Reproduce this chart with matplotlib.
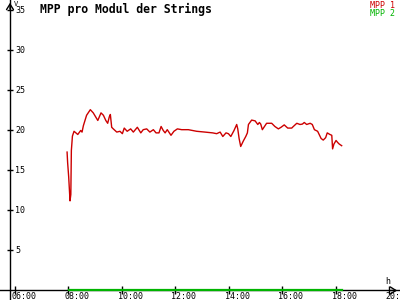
import matplotlib
matplotlib.use('Agg')
import matplotlib.pyplot as plt
from matplotlib.transforms import offset_copy

title = "MPP pro Modul der Strings"
series_names = ["MPP 1", "MPP 2"]
series_colors = ["#cc0000", "#00b400"]
x_ticks = [6, 8, 10, 12, 14, 16, 18, 20]
x_tick_labels = ["06:00", "08:00", "10:00", "12:00", "14:00", "16:00", "18:00", "20:00"]
y_ticks = [5, 10, 15, 20, 25, 30, 35]
y_unit = "V"
x_unit = "h"

# MPP 1 (hours of day, volts)
mpp1_hours = [7.95, 7.97, 8.01, 8.06, 8.09, 8.11, 8.15, 8.21, 8.35, 8.46,
              8.51, 8.56, 8.68, 8.82, 8.93, 9.10, 9.22, 9.31, 9.40, 9.47,
              9.53, 9.57, 9.62, 9.68, 9.81, 9.93, 10.02, 10.09, 10.20, 10.33,
              10.43, 10.58, 10.71, 10.80, 10.93, 11.05, 11.18, 11.28, 11.39, 11.47,
              11.55, 11.62, 11.70, 11.84, 11.95, 12.08, 12.24, 12.49, 12.80, 13.11,
              13.40, 13.55, 13.68, 13.78, 13.90, 13.99, 14.08, 14.20, 14.30, 14.34,
              14.39, 14.45, 14.55, 14.64, 14.70, 14.74, 14.86, 14.99, 15.09, 15.15,
              15.20, 15.26, 15.36, 15.42, 15.61, 15.73, 15.86, 15.96, 16.08, 16.21,
              16.36, 16.42, 16.55, 16.67, 16.76, 16.83, 16.92, 17.05, 17.13, 17.21,
              17.33, 17.46, 17.54, 17.63, 17.69, 17.79, 17.86, 17.89, 17.94, 18.02,
              18.08, 18.14, 18.23]
mpp1_volts = [17.3, 16.0, 14.2, 11.2, 12.0, 17.5, 19.3, 19.9, 19.5, 20.0,
              19.8, 20.6, 21.9, 22.6, 22.2, 21.25, 22.2, 21.9, 21.25, 20.9,
              21.7, 22.0, 20.4, 20.2, 19.8, 19.9, 19.6, 20.3, 19.9, 20.2,
              19.8, 20.4, 19.7, 20.1, 20.2, 19.8, 20.1, 19.7, 19.7, 20.5,
              20.0, 19.7, 20.1, 19.4, 19.9, 20.2, 20.1, 20.1, 19.9, 19.8,
              19.7, 19.6, 19.8, 19.25, 19.7, 19.6, 19.25, 20.0, 20.75, 20.2,
              19.0, 18.0, 18.7, 19.25, 19.7, 20.75, 21.3, 21.2, 20.75, 21.0,
              20.8, 20.1, 20.6, 20.9, 20.9, 20.5, 20.2, 20.4, 20.7, 20.3,
              20.3, 20.5, 20.9, 20.75, 20.8, 21.0, 20.75, 20.9, 20.75, 20.1,
              19.9, 19.0, 18.8, 19.1, 19.7, 19.5, 19.4, 17.7, 18.3, 18.75,
              18.5, 18.3, 18.1]

# MPP 2
mpp2_hours = [8.01, 18.23]
mpp2_volts = [0.0, 0.0]

fig = plt.figure(figsize=(4, 3), dpi=100)
fig.patch.set_facecolor("white")
ax = fig.add_axes([0, 0, 1, 1])
ax.set_facecolor("white")
ax.set_xlim(5.4384, 20.414)
ax.set_ylim(-1.19, 36.31)

yaxis_x = 5.8128
mono = "DejaVu Sans Mono"

for s in ["top", "right"]:
    ax.spines[s].set_visible(False)
ax.spines["left"].set_position(("data", yaxis_x))
ax.spines["bottom"].set_position(("data", 0))
ax.spines["left"].set_linewidth(1)
ax.spines["bottom"].set_linewidth(1)

ax.set_xticks(x_ticks)
ax.set_yticks(y_ticks)
ax.tick_params(axis="x", direction="inout", length=6, width=1, labelbottom=False)
ax.tick_params(axis="y", direction="inout", length=5, width=1, labelleft=False)

ax.plot(mpp1_hours, mpp1_volts, color=series_colors[0], lw=1.0, zorder=4)
ax.plot(mpp2_hours, mpp2_volts, color=series_colors[1], lw=1.6, zorder=4, clip_on=False)

xlab_tr = offset_copy(ax.transData, fig=fig, x=-4, y=-2, units="dots")
for t, lab in zip(x_ticks, x_tick_labels):
    ax.text(t, 0, lab, transform=xlab_tr, ha="left", va="top",
            family=mono, fontsize=6, clip_on=False)

ylab_tr = offset_copy(ax.transData, fig=fig, x=5, y=0, units="dots")
for v in y_ticks:
    ax.text(yaxis_x, v, str(v), transform=ylab_tr, ha="left", va="center",
            family=mono, fontsize=6)

# arrows
ax.annotate("", xy=(yaxis_x, 1.0), xycoords=("data", "axes fraction"),
            xytext=(yaxis_x, 0.96), textcoords=("data", "axes fraction"),
            arrowprops=dict(arrowstyle="->,head_length=0.4,head_width=0.25", lw=1, color="black"))
ax.annotate("", xy=(1.0, 0), xycoords=("axes fraction", "data"),
            xytext=(0.97, 0), textcoords=("axes fraction", "data"),
            arrowprops=dict(arrowstyle="->,head_length=0.4,head_width=0.25", lw=1, color="black"))

fig.text(14 / 400, 1 - 0.5 / 300, y_unit, ha="left", va="top", family=mono, fontsize=5)
fig.text(388 / 400, 1 - 281 / 300, x_unit, ha="center", va="center", family=mono, fontsize=6)

fig.text(40 / 400, 1 - 3 / 300, title, ha="left", va="top", family=mono,
         fontweight="bold", fontsize=8.3)
fig.text(395 / 400, 1 - 0.5 / 300, series_names[0], ha="right", va="top",
         family=mono, fontsize=6, color=series_colors[0])
fig.text(395 / 400, 1 - 8.5 / 300, series_names[1], ha="right", va="top",
         family=mono, fontsize=6, color=series_colors[1])

fig.savefig("out.png", dpi=100, facecolor="white")
